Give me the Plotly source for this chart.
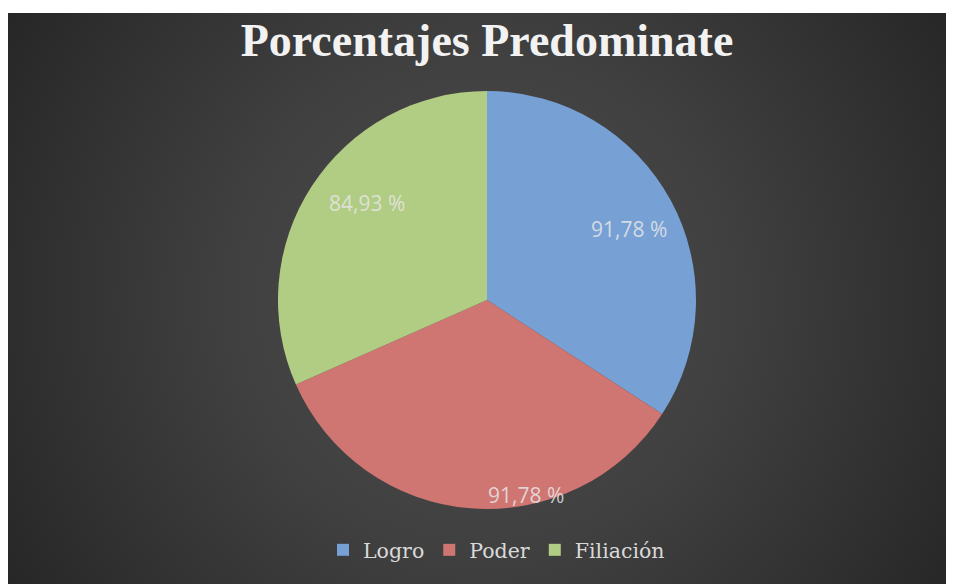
import base64
import math
import plotly.graph_objects as go

# ---- data ----
categories = ["Logro", "Poder", "Filiación"]
values = [91.78, 91.78, 84.93]
value_labels = ["91,78 %", "91,78 %", "84,93 %"]
title_text = "Porcentajes Predominate"

# ---- style ----
colors = ["#77a0d4", "#cf7572", "#b1cc83"]
label_angle_offset = [2, -16, 6]     # degrees, tweak of label placement
label_radius = [0.76, 0.95, 0.74]    # fraction of pie radius

W, H = 954, 584
OFF = 8  # page body margin: screen = figure + OFF
cx_px, cy_px, r_px = 487 - OFF, 300 - OFF, 209

# background: white frame + dark radial gradient panel
svg = f'''<svg xmlns="http://www.w3.org/2000/svg" width="{W}" height="{H}" viewBox="0 0 {W} {H}" preserveAspectRatio="none">
<defs><radialGradient id="g" gradientUnits="userSpaceOnUse" cx="{480-OFF}" cy="{300-OFF}" r="560">
<stop offset="0" stop-color="#4d4d4d"/><stop offset="0.45" stop-color="#404040"/><stop offset="1" stop-color="#262626"/></radialGradient></defs>
<rect width="{W}" height="{H}" fill="#ffffff"/>
<rect x="0" y="{13-OFF}" width="{W}" height="{H}" fill="url(#g)"/></svg>'''
bg_uri = "data:image/svg+xml;base64," + base64.b64encode(svg.encode()).decode()

dom_x = [(cx_px - r_px) / W, (cx_px + r_px) / W]
dom_y = [1 - (cy_px + r_px) / H, 1 - (cy_px - r_px) / H]

fig = go.Figure()
fig.add_trace(go.Pie(
    labels=categories,
    values=values,
    sort=False,
    direction="clockwise",
    rotation=0,
    marker=dict(colors=colors, line=dict(width=0)),
    textinfo="none",
    hoverinfo="label+value",
    domain=dict(x=dom_x, y=dom_y),
))

# value labels placed from the data's cumulative angles
total = sum(values)
cum = 0.0
annotations = []
for i, v in enumerate(values):
    mid = (cum + v / 2) / total * 360 + label_angle_offset[i]
    cum += v
    a = math.radians(mid)
    px = cx_px + label_radius[i] * r_px * math.sin(a)
    py = cy_px - label_radius[i] * r_px * math.cos(a)
    annotations.append(dict(
        x=px / W, y=1 - py / H, xref="paper", yref="paper",
        text=value_labels[i], showarrow=False,
        font=dict(family="'Open Sans', sans-serif", size=21, color="rgba(230,230,230,0.85)"),
        xanchor="center", yanchor="middle",
    ))

fig.update_layout(
    width=W, height=H,
    margin=dict(l=0, r=0, t=0, b=0),
    paper_bgcolor="#2a2a2a",
    images=[dict(source=bg_uri, xref="paper", yref="paper", x=0, y=1,
                 sizex=1, sizey=1, xanchor="left", yanchor="top",
                 sizing="stretch", layer="below")],
    title=dict(text="<b>" + title_text + "</b>", x=(487 - OFF) / W, xanchor="center",
               y=1 - (40 - OFF) / H, yanchor="middle",
               font=dict(family="Liberation Serif, serif", size=46, color="#f2f2f2")),
    legend=dict(orientation="h", x=(323 - OFF) / W, xanchor="left",
                y=1 - (550 - OFF) / H, yanchor="middle",
                font=dict(family="DejaVu Serif, serif", size=20.5, color="#d9d9d9"),
                bgcolor="rgba(0,0,0,0)", itemclick=False),
    annotations=annotations,
    showlegend=True,
)

fig.write_html("out.html")
